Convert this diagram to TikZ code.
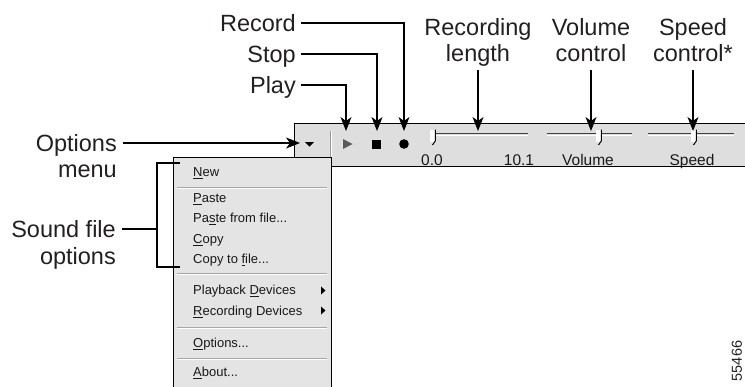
\documentclass[tikz,border=0pt]{standalone}
\usepackage{fontspec}
\setmainfont{Liberation Sans}
\usetikzlibrary{arrows.meta}
\definecolor{tbgray}{RGB}{222,222,222}
\definecolor{mgray}{RGB}{228,228,228}
\definecolor{ink}{RGB}{35,31,32}
\begin{document}
\begin{tikzpicture}[x=1pt,y=-1pt,
  lbl/.style={font=\fontsize{23.5}{26.5}\selectfont, text=ink, inner sep=0pt},
  sidelbl/.style={lbl, align=right, anchor=north east, inner xsep=6pt, inner ysep=0pt},
  toplbl/.style={lbl, inner xsep=5pt, text height=17pt, text depth=0pt, anchor=east},
  ctrlbl/.style={lbl, align=center, anchor=south},
  arr/.style={draw=black, line width=1.1pt, -{Stealth[length=14pt,width=11pt,inset=4pt]}},
  ln/.style={draw=black, line width=1.1pt},
  item/.style={font=\fontsize{13}{14}\selectfont, text=black!90, anchor=base west, inner sep=0pt},
  tbl/.style={font=\fontsize{15.5}{16}\selectfont, text=black!90, anchor=base, inner sep=0pt},
  sep/.style={draw=black!35, line width=0.8pt},
  seplight/.style={draw=white, line width=0.8pt},
]
\useasboundingbox (0,0) rectangle (745,386);

% ---------- toolbar ----------
\fill[tbgray] (294,123) rectangle (746,166);
\draw[line width=1pt] (746,123) -- (294,123) -- (294,166) -- (746,166);
\draw[black!40, line width=0.8pt] (330,131) -- (330,166);
\draw[white, line width=0.8pt] (331.2,131) -- (331.2,166);

% buttons
\fill (305,142) -- (314,142) -- (309.5,146.5) -- cycle;
\fill[black!65] (343,139) -- (352.5,144) -- (343,149) -- cycle;
\fill (372,140) rectangle (381,149);
\fill (404,144) circle (4.8);

% sliders
\foreach \a/\b/\t in {432/528/433, 547/632/599, 648/734/694}{
  \draw[black!75, line width=1pt] (\a,133.5) -- (\b,133.5);
  \draw[white, line width=1pt] (\a,135.3) -- (\b,135.3);
  \fill[white] (\t-3.5,129.5) rectangle (\t+2,141.5);
  \draw[black, line width=1pt] (\t+2.3,129.5) -- (\t+2.3,141) -- (\t-0.5,145);
}
\node[tbl] (l00) at (432,165.5) {0.0};
\node[tbl] (l101) at (519,165.5) {10.1};
\node[tbl] (lvol) at (588,165.5) {Volume};
\node[tbl] (lspd) at (692,165.5) {Speed};

% ---------- menu ----------
\fill[mgray] (173,157) rectangle (331,390);
\draw[line width=1pt] (173,390) -- (173,157) -- (331,157) -- (331,390);
\foreach \y in {187,273,327,358}{
  \draw[sep] (177,\y) -- (327,\y);
  \draw[seplight] (177,\y+1.2) -- (327,\y+1.2);
}
\node[item] (mnew) at (193,176.5) {\underline{N}ew};
\node[item] (mpaste) at (193,202.5) {\underline{P}aste};
\node[item] (mpff) at (193,222.5) {Pa\underline{s}te from file...};
\node[item] (mcopy) at (193,243.5) {\underline{C}opy};
\node[item] (mctf) at (193,263.5) {Copy to \underline{f}ile...};
\node[item] (mplay) at (193,294.5) {Playback \underline{D}evices};
\node[item] (mrec) at (193,315.5) {\underline{R}ecording Devices};
\node[item] (mopt) at (193,347.5) {\underline{O}ptions...};
\node[item] (mabout) at (193,376.5) {\underline{A}bout...};
\fill (321,286.5) -- (325.5,290.5) -- (321,294.5) -- cycle;
\fill (321,306.5) -- (325.5,310.5) -- (321,314.5) -- cycle;

% ---------- targets ----------
\coordinate (topt) at (300,143);
\coordinate (tplay) at (346,131);
\coordinate (tstop) at (377,131);
\coordinate (trec) at (404,131);
\coordinate (tlen) at (478,131);
\coordinate (tvol) at (591,131);
\coordinate (tspd) at (693,131);
\coordinate (bm) at (157,229);

% ---------- callouts ----------
\node[toplbl] (crec) at (301,23) {Record};
\node[toplbl] (cstop) at (301,54) {Stop};
\node[toplbl] (cplay) at (301,85) {Play};
\draw[arr] (crec.east) -| (trec);
\draw[arr] (cstop.east) -| (tstop);
\draw[arr] (cplay.east) -| (tplay);

\node[ctrlbl] (clen) at (478,70) {Recording\\length\strut};
\node[ctrlbl] (cvol) at (591,70) {Volume\\control\strut};
\node[ctrlbl] (cspd) at (693,70) {Speed\\control*\strut};
\draw[arr] (clen.south) -- (tlen);
\draw[arr] (cvol.south) -- (tvol);
\draw[arr] (cspd.south) -- (tspd);

\node[sidelbl] (copt) at (123,134) {Options\\menu};
\draw[arr] (copt.east |- topt) -- (topt);

\node[sidelbl] (csnd) at (122,220.5) {Sound file\\options};
\draw[ln] (csnd.east |- bm) -- (bm);
\draw[ln] (180,163) -- (157,163) -- (157,267) -- (180,267);

\node[rotate=90, font=\fontsize{14.5}{16}\selectfont, text=ink, inner sep=0pt] (fignum) at (737,361) {55466};
\end{tikzpicture}
\end{document}
